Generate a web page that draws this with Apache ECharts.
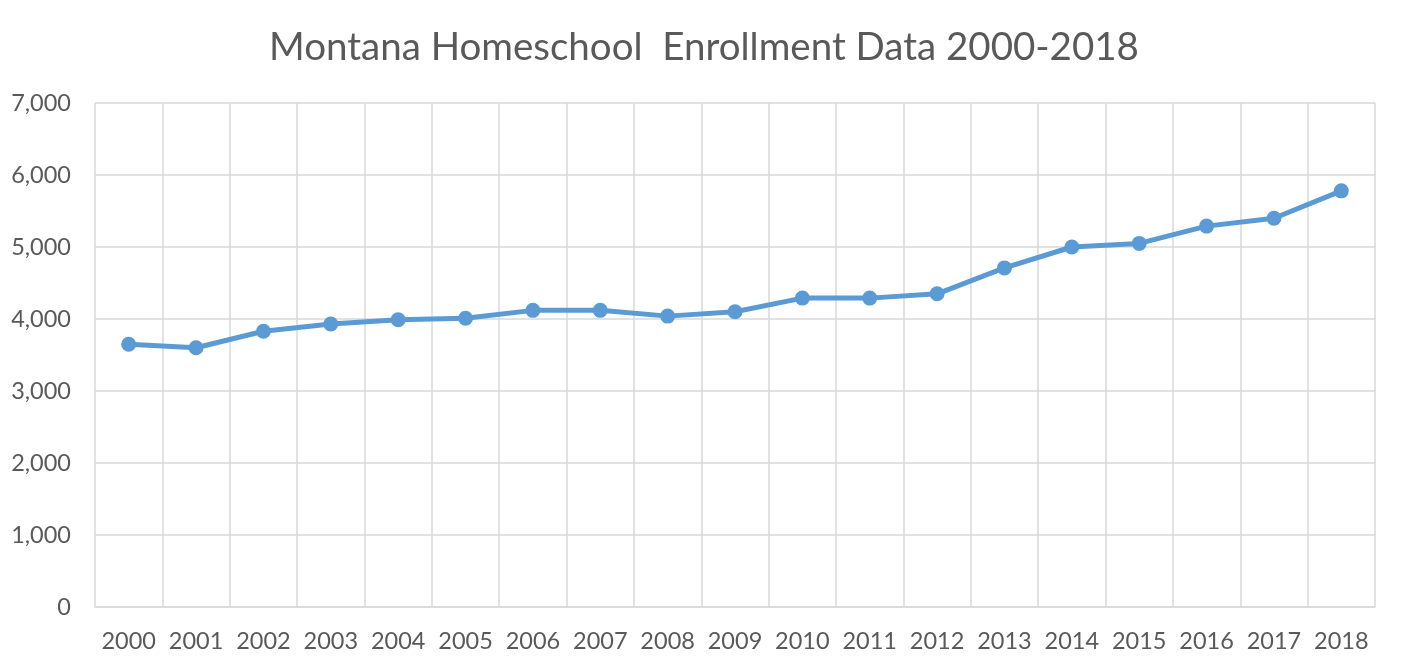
<!DOCTYPE html>
<html>
<head>
<meta charset="utf-8">
<script src="https://cdn.jsdelivr.net/npm/echarts@6/dist/echarts.min.js"></script>
<style>
  html, body { margin: 0; padding: 0; background: #fff; }
  #chart { width: 1408px; height: 670px; }
</style>
</head>
<body>
<div id="chart"></div>
<script>
// Montana homeschool enrollment
var years = ['2000', '2001', '2002', '2003', '2004', '2005', '2006', '2007', '2008', '2009',
  '2010', '2011', '2012', '2013', '2014', '2015', '2016', '2017', '2018'];
var enrollment = [3650, 3600, 3830, 3930, 3990, 4010, 4120, 4120, 4040, 4100,
  4290, 4290, 4350, 4710, 5000, 5050, 5290, 5400, 5780];
var yTicks = [0, 1000, 2000, 3000, 4000, 5000, 6000, 7000];

var font = 'Lato, "Open Sans", sans-serif';
var gray = '#595959';
var gridColor = '#d9d9d9';

var chart = echarts.init(document.getElementById('chart'));
chart.setOption({
  animation: false,
  title: {
    text: 'Montana Homeschool  Enrollment Data 2000-2018',
    left: 'center',
    top: 23,
    textStyle: { fontFamily: font, fontSize: 38.5, fontWeight: 'normal', color: gray }
  },
  grid: { left: 95, right: 33, top: 103, bottom: 63 },
  xAxis: {
    type: 'category',
    data: years,
    boundaryGap: true,
    axisLine: { show: true, lineStyle: { color: gridColor, width: 1.5 } },
    axisTick: { show: false, interval: 0 },
    axisLabel: { interval: 0, fontFamily: font, fontSize: 23.5, color: gray, margin: 22 },
    splitLine: { show: true, interval: 0, lineStyle: { color: gridColor, width: 1.5 } }
  },
  yAxis: {
    type: 'value',
    min: yTicks[0],
    max: yTicks[yTicks.length - 1],
    interval: 1000,
    axisLine: { show: false },
    axisTick: { show: false },
    axisLabel: {
      fontFamily: font, fontSize: 23.5, color: gray, margin: 24,
      formatter: function (v) { return v.toLocaleString('en-US'); }
    },
    splitLine: { show: true, lineStyle: { color: gridColor, width: 1.5 } }
  },
  series: [{
    type: 'line',
    data: enrollment,
    symbol: 'circle',
    symbolSize: 15,
    lineStyle: { color: '#5b9bd5', width: 5 },
    itemStyle: { color: '#5b9bd5' }
  }]
});
</script>
</body>
</html>
